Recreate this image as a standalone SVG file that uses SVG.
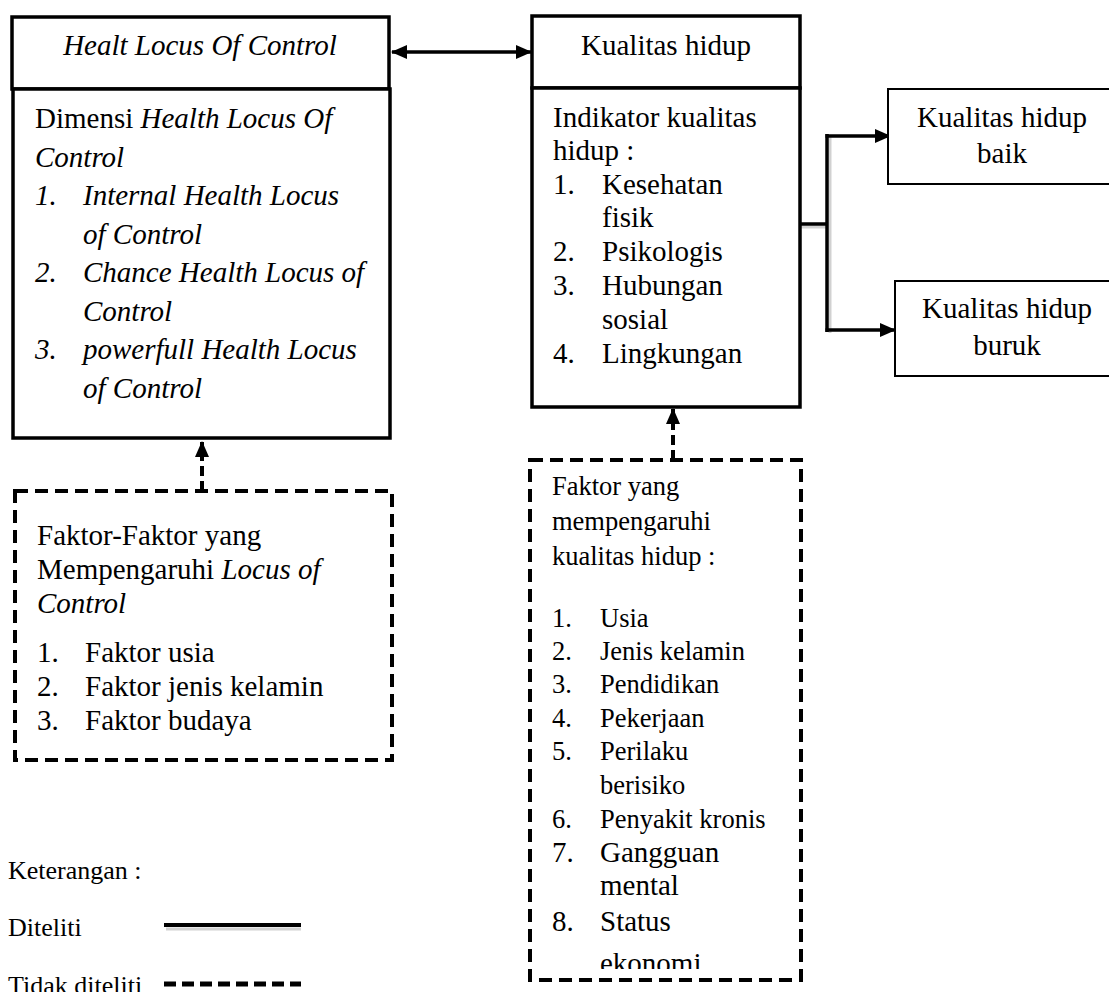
<svg xmlns="http://www.w3.org/2000/svg" width="1109" height="992" viewBox="0 0 1109 992">
<style>
text{font-family:"Liberation Serif","Times New Roman",serif;font-size:29px;fill:#000}
.s{font-size:26.5px}
.lg{font-size:26px}
.i{font-style:italic}
.mid{text-anchor:middle}
.box{fill:#fff;stroke:#000;stroke-width:3.5}
.box2{fill:#fff;stroke:#000;stroke-width:2}
.dbox{fill:none;stroke:#000;stroke-width:4;stroke-dasharray:13 7}
.ln{fill:none;stroke:#000;stroke-width:3.5}
.dln{fill:none;stroke:#000;stroke-width:4;stroke-dasharray:10 5}
.shadow{fill:none;stroke:#bdbdbd;stroke-width:3;opacity:0.7}
</style>
<defs>
<marker id="ah" viewBox="0 0 16 14" refX="15" refY="7" markerWidth="16" markerHeight="14" markerUnits="userSpaceOnUse" orient="auto-start-reverse">
<path d="M0,0 L16,7 L0,14 z" fill="#000"/>
</marker>
<clipPath id="clipR"><rect x="530" y="460" width="271" height="509"/></clipPath>
</defs>
<rect width="1109" height="992" fill="#fff"/>

<g id="connectors">
<line class="ln" x1="392" y1="52" x2="531" y2="52" marker-start="url(#ah)" marker-end="url(#ah)"/>
<line class="shadow" x1="800" y1="227" x2="827" y2="227"/>
<line class="ln" x1="800" y1="224" x2="827" y2="224"/>
<line class="shadow" x1="830" y1="136" x2="830" y2="333"/>
<line class="ln" x1="827" y1="134" x2="827" y2="332"/>
<line class="ln" x1="825.5" y1="136" x2="890" y2="136" marker-end="url(#ah)"/>
<line class="ln" x1="825.5" y1="330" x2="895" y2="330" marker-end="url(#ah)"/>
<line class="dln" x1="202" y1="491" x2="202" y2="442" marker-end="url(#ah)"/>
<line class="dln" x1="673" y1="460" x2="673" y2="409" marker-end="url(#ah)"/>
</g>

<g id="node-hloc-title">
<rect class="box" x="12" y="17" width="377" height="72"/>
<text class="i mid" x="200" y="55">Healt Locus Of Control</text>
</g>

<g id="node-hloc-dim">
<rect class="box" x="13" y="89" width="377" height="349"/>
<text x="35" y="128">Dimensi <tspan class="i">Health Locus Of</tspan></text>
<text class="i" x="35" y="166.5">Control</text>
<text class="i" x="35" y="205">1.</text><text class="i" x="83" y="205">Internal Health Locus</text>
<text class="i" x="83" y="243.5">of Control</text>
<text class="i" x="35" y="282">2.</text><text class="i" x="83" y="282">Chance Health Locus of</text>
<text class="i" x="83" y="320.5">Control</text>
<text class="i" x="35" y="359">3.</text><text class="i" x="83" y="359">powerfull Health Locus</text>
<text class="i" x="83" y="397.5">of Control</text>
</g>

<g id="node-kh-title">
<rect class="box" x="532" y="16" width="268" height="72"/>
<text class="mid" x="666" y="55">Kualitas hidup</text>
</g>

<g id="node-kh-ind">
<rect class="box" x="532" y="88" width="268" height="319"/>
<text x="553" y="127">Indikator kualitas</text>
<text x="553" y="160">hidup :</text>
<text x="553" y="194">1.</text><text x="602" y="194">Kesehatan</text>
<text x="602" y="227">fisik</text>
<text x="553" y="261">2.</text><text x="602" y="261">Psikologis</text>
<text x="553" y="295">3.</text><text x="602" y="295">Hubungan</text>
<text x="602" y="329">sosial</text>
<text x="553" y="363">4.</text><text x="602" y="363">Lingkungan</text>
</g>

<g id="node-baik">
<rect class="box2" x="888" y="89" width="230" height="95"/>
<text class="mid" x="1002" y="127">Kualitas hidup</text>
<text class="mid" x="1002" y="163">baik</text>
</g>

<g id="node-buruk">
<rect class="box2" x="895" y="281" width="230" height="95"/>
<text class="mid" x="1007" y="318">Kualitas hidup</text>
<text class="mid" x="1007" y="355">buruk</text>
</g>

<g id="node-faktor-loc">
<rect class="dbox" x="15" y="491" width="377" height="269"/>
<text x="37" y="545">Faktor-Faktor yang</text>
<text x="37" y="579">Mempengaruhi <tspan class="i">Locus of</tspan></text>
<text class="i" x="37" y="613">Control</text>
<text x="37" y="662">1.</text><text x="85" y="662">Faktor usia</text>
<text x="37" y="696">2.</text><text x="85" y="696">Faktor jenis kelamin</text>
<text x="37" y="730">3.</text><text x="85" y="730">Faktor budaya</text>
</g>

<g id="node-faktor-kh">
<rect class="dbox" x="530" y="460" width="271" height="520"/>
<g clip-path="url(#clipR)">
<text class="s" x="552" y="495">Faktor yang</text>
<text class="s" x="552" y="530">mempengaruhi</text>
<text class="s" x="552" y="565">kualitas hidup :</text>
<text class="s" x="552" y="627">1.</text><text class="s" x="600" y="627">Usia</text>
<text class="s" x="552" y="660">2.</text><text class="s" x="600" y="660">Jenis kelamin</text>
<text class="s" x="552" y="693">3.</text><text class="s" x="600" y="693">Pendidikan</text>
<text class="s" x="552" y="727">4.</text><text class="s" x="600" y="727">Pekerjaan</text>
<text class="s" x="552" y="760">5.</text><text class="s" x="600" y="760">Perilaku</text>
<text class="s" x="600" y="794">berisiko</text>
<text class="s" x="552" y="828">6.</text><text class="s" x="600" y="828">Penyakit kronis</text>
<text x="552" y="862">7.</text><text x="600" y="862">Gangguan</text>
<text x="600" y="895">mental</text>
<text x="552" y="931">8.</text><text x="600" y="931">Status</text>
<text x="600" y="973">ekonomi</text>
</g>
</g>

<g id="legend">
<text class="lg" x="8" y="879">Keterangan :</text>
<text class="lg" x="8" y="936">Diteliti</text>
<line class="shadow" x1="166" y1="929" x2="301" y2="929"/>
<line x1="164" y1="925" x2="301" y2="925" stroke="#000" stroke-width="4"/>
<text class="lg" x="8" y="994">Tidak diteliti</text>
<line x1="164" y1="984" x2="301" y2="984" stroke="#000" stroke-width="5" stroke-dasharray="12 6"/>
</g>
</svg>
